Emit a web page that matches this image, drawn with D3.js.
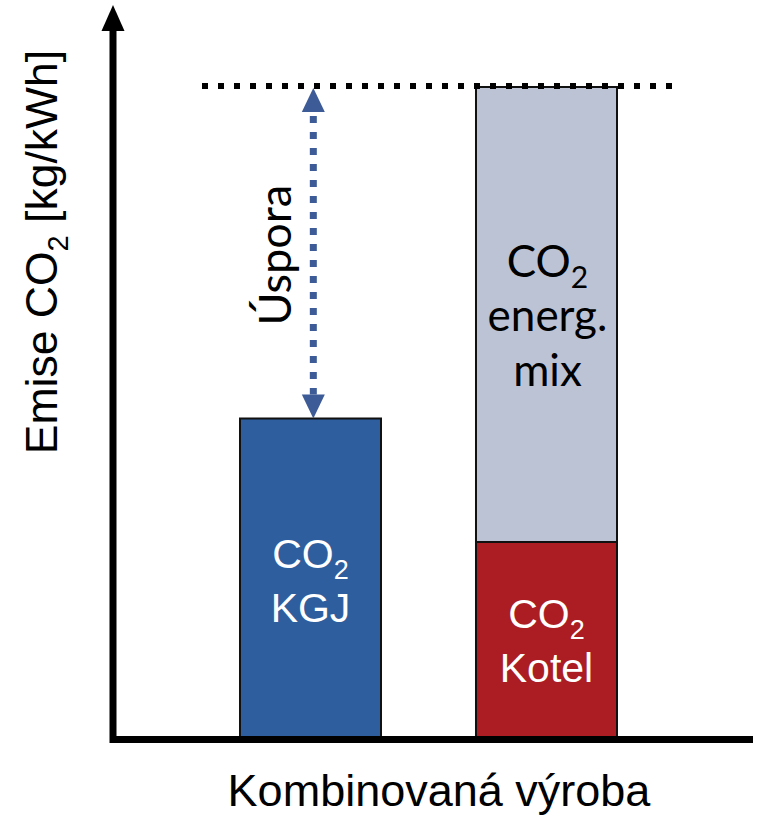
<!DOCTYPE html>
<html>
<head>
<meta charset="utf-8">
<script src="https://cdn.jsdelivr.net/npm/d3@7"></script>
<style>
  html, body { margin: 0; padding: 0; background: #fff; }
  svg { display: block; }
</style>
</head>
<body>
<script>
// Emission comparison: combined heat & power unit vs. separate production
const categories = ["kgj", "separate"];
const segmentNames = ["KGJ", "Kotel", "energ. mix"];
// CO2 emissions per category, relative units (separate production total = 100)
const kgjValues = [49, 0];
const kotelValues = [0, 30];
const mixValues = [0, 70];
const referenceLevel = 100;

const W = 757, H = 816;
const svg = d3.select("body").append("svg").attr("width", W).attr("height", H);

const x = d3.scaleBand().domain(categories).range([122, 735])
  .paddingInner(0.4025).paddingOuter(0.5);
const y = d3.scaleLinear().domain([0, 100]).range([737, 87]);

const colors = { KGJ: "#2e5e9e", Kotel: "#ab1d22", "energ. mix": "#bcc3d5" };

// stacked segments per category
const rows = categories.map((c, i) => ({
  cat: c, KGJ: kgjValues[i], Kotel: kotelValues[i], "energ. mix": mixValues[i]
}));
const stack = d3.stack().keys(segmentNames)(rows);

const bars = svg.append("g");
stack.forEach(layer => {
  layer.forEach(d => {
    if (d[1] - d[0] <= 0) return;
    bars.append("rect")
      .attr("x", x(d.data.cat))
      .attr("y", y(d[1]))
      .attr("width", x.bandwidth())
      .attr("height", y(d[0]) - y(d[1]))
      .attr("fill", colors[layer.key])
      .attr("stroke", "#111")
      .attr("stroke-width", 2);
  });
});

// reference level (dotted)
svg.append("line")
  .attr("x1", 202).attr("x2", 676)
  .attr("y1", y(referenceLevel) - 1).attr("y2", y(referenceLevel) - 1)
  .attr("stroke", "#000").attr("stroke-width", 6)
  .attr("stroke-dasharray", "6 10");

// savings arrow (double-headed, dotted)
const arrowColor = "#3d5b96";
const ax = x("kgj") + x.bandwidth() * 0.52;
const yTop = y(referenceLevel) + 1, yBot = y(kgjValues[0]);
const head = 24, halfW = 11.5;
svg.append("line")
  .attr("x1", ax).attr("x2", ax)
  .attr("y1", yTop + head + 4).attr("y2", yBot - head)
  .attr("stroke", arrowColor).attr("stroke-width", 7)
  .attr("stroke-dasharray", "7 9");
svg.append("path")
  .attr("d", `M${ax},${yTop} L${ax + halfW},${yTop + head} L${ax - halfW},${yTop + head} Z`)
  .attr("fill", arrowColor);
svg.append("path")
  .attr("d", `M${ax},${yBot} L${ax + halfW},${yBot - head} L${ax - halfW},${yBot - head} Z`)
  .attr("fill", arrowColor);

svg.append("text")
  .attr("transform", `translate(${ax - 22},${(yTop + yBot) / 2 + 2}) rotate(-90)`)
  .attr("text-anchor", "middle")
  .attr("font-family", "Lato, 'Open Sans', sans-serif")
  .attr("font-size", 45)
  .attr("fill", "#000")
  .text("Úspora");

// axes
const axisG = svg.append("g");
axisG.append("line").attr("x1", 113).attr("x2", 113).attr("y1", 28).attr("y2", 743)
  .attr("stroke", "#000").attr("stroke-width", 7);
axisG.append("path").attr("d", "M113,5 L124.5,31 L101.5,31 Z").attr("fill", "#000");
axisG.append("line").attr("x1", 110).attr("x2", 753).attr("y1", 739.5).attr("y2", 739.5)
  .attr("stroke", "#000").attr("stroke-width", 7);

// segment labels, one text per line with an optional subscript
function multiLabel(cx, baselines, lines, family, size, subSize, color) {
  lines.forEach((ln, i) => {
    const g = svg.append("text")
      .attr("x", cx).attr("y", baselines[i])
      .attr("text-anchor", "middle")
      .attr("font-family", family)
      .attr("font-size", size)
      .attr("fill", color);
    if (ln.sub) {
      g.append("tspan").text(ln.text);
      g.append("tspan").attr("font-size", subSize).attr("dy", 11).text(ln.sub);
    } else {
      g.text(ln.text);
    }
  });
}

const arial = "'Liberation Sans', Arial, sans-serif";
const lato = "Lato, 'Open Sans', sans-serif";
const c1 = x("kgj") + x.bandwidth() / 2;
const c2 = x("separate") + x.bandwidth() / 2;

multiLabel(c1, [568, 622], [{ text: "CO", sub: "2" }, { text: segmentNames[0] }], arial, 41, 27, "#fff");
multiLabel(c2, [628, 682], [{ text: "CO", sub: "2" }, { text: segmentNames[1] }], arial, 41, 27, "#fff");
multiLabel(c2 + 1, [277, 331, 386], [{ text: "CO", sub: "2" }, { text: "energ." }, { text: "mix" }], lato, 44, 30, "#000");

// axis titles
svg.append("text")
  .attr("x", 439).attr("y", 806)
  .attr("text-anchor", "middle")
  .attr("font-family", arial)
  .attr("font-size", 45)
  .attr("fill", "#000")
  .text("Kombinovaná výroba");

const yl = svg.append("text")
  .attr("transform", "translate(57,252) rotate(-90)")
  .attr("text-anchor", "middle")
  .attr("font-family", arial)
  .attr("font-size", 44.5)
  .attr("fill", "#000");
yl.append("tspan").text("Emise CO");
yl.append("tspan").attr("font-size", 29).attr("dy", 11).text("2");
yl.append("tspan").attr("dy", -11).text(" [kg/kWh]");
</script>
</body>
</html>
